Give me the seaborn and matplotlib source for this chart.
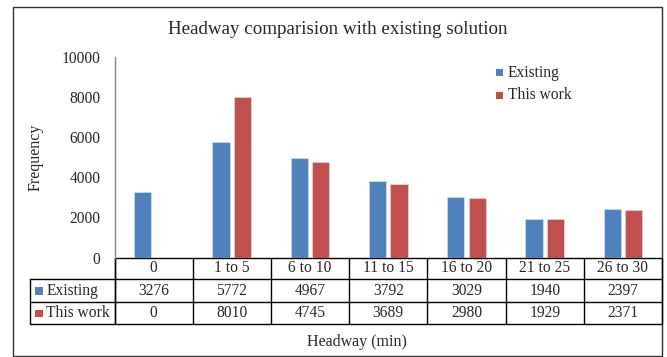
import matplotlib
matplotlib.use("Agg")
import matplotlib.pyplot as plt
import seaborn as sns
import pandas as pd
from matplotlib.transforms import blended_transform_factory
from matplotlib.patches import Rectangle
from matplotlib.lines import Line2D

# ---- data ----
categories = ["0", "1 to 5", "6 to 10", "11 to 15", "16 to 20", "21 to 25", "26 to 30"]
existing = [3276, 5772, 4967, 3792, 3029, 1940, 2397]
this_work = [0, 8010, 4745, 3689, 2980, 1929, 2371]
series_names = ["Existing", "This work"]
y_ticks = [0, 2000, 4000, 6000, 8000, 10000]
colors = ["#4F81BD", "#C0504D"]
title = "Headway comparision with existing solution"
x_label = "Headway (min)"
y_label = "Frequency"

df = pd.DataFrame({
    "Headway": categories * 2,
    "Frequency": existing + this_work,
    "Series": [series_names[0]] * len(categories) + [series_names[1]] * len(categories),
})

sns.set_style("white")
plt.rcParams["font.family"] = ["Liberation Serif", "DejaVu Serif"]

W, H = 667, 357
fig = plt.figure(figsize=(W / 100, H / 100), dpi=100)

# overlay in pixel coordinates
ov = fig.add_axes([0, 0, 1, 1])
ov.set_xlim(0, W)
ov.set_ylim(H, 0)
ov.axis("off")

x0, x1 = 114.5, 662.0
y_top, y_zero = 57.0, 257.5
ax = fig.add_axes([x0 / W, (H - y_zero) / H, (x1 - x0) / W, (y_zero - y_top) / H])
ax.patch.set_alpha(0)

sns.barplot(data=df, x="Headway", y="Frequency", hue="Series", order=categories,
            hue_order=series_names, palette=colors, saturation=1, width=0.55, gap=0.2,
            edgecolor="#dfe6ef", linewidth=0.4, legend=False, ax=ax)

ax.set_xlim(-0.5, len(categories) - 0.5)
ax.set_ylim(0, 10000)
ax.set_yticks(y_ticks)
ax.set_yticklabels([str(v) for v in y_ticks], fontsize=11.2)
ax.tick_params(axis="y", length=0, pad=10)
ax.set_xticks([])
ax.set_xlabel("")
ax.set_ylabel("")
for s in ["top", "right", "bottom"]:
    ax.spines[s].set_visible(False)
ax.spines["left"].set_color("#868686")
ax.spines["left"].set_linewidth(1.0)

# figure border
ov.add_patch(Rectangle((13, 7), 649, 348.5, fill=False, edgecolor="#303030", lw=1.0))

# title and labels
ov.text(337.5, 30, title, fontsize=13.7, ha="center", va="center")
ov.text(357, 342, x_label, fontsize=11.5, ha="center", va="center")
ov.text(36, 157, y_label, fontsize=11.5, ha="center", va="center", rotation=90)

# legend
leg_rows = [72.7, 95.0]
for name, col, yy in zip(series_names, colors, leg_rows):
    ov.add_patch(Rectangle((496, yy - 3.5), 7, 7, color=col, lw=0))
    ov.text(507.5, yy, name, fontsize=11.2, ha="left", va="center")

# data table
bt = blended_transform_factory(ax.transData, ov.transData)
r0, r1, r2, r3 = y_zero, 279.3, 302.3, 324.3
ov.add_line(Line2D([x0, x1], [r0, r0], color="black", lw=1.0))
for yy in (r1, r2, r3):
    ov.add_line(Line2D([30, x1], [yy, yy], color="black", lw=1.0))
ov.add_line(Line2D([30, 30], [r1, r3], color="black", lw=1.0))
ov.add_line(Line2D([x0, x0], [r0, r3], color="black", lw=1.0))
for i in range(len(categories) + 1):
    ln = Line2D([i - 0.5, i - 0.5], [r0, r3], color="black", lw=1.0, transform=bt)
    ov.add_line(ln)

for i, c in enumerate(categories):
    ov.text(i, (r0 + r1) / 2, c, fontsize=11.2, ha="center", va="center", transform=bt)
    ov.text(i, (r1 + r2) / 2, str(existing[i]), fontsize=11.2, ha="center", va="center", transform=bt)
    ov.text(i, (r2 + r3) / 2, str(this_work[i]), fontsize=11.2, ha="center", va="center", transform=bt)

for name, col, (ya, yb) in zip(series_names, colors, [(r1, r2), (r2, r3)]):
    yc = (ya + yb) / 2
    ov.add_patch(Rectangle((35, yc - 3.7), 7.5, 7.5, color=col, lw=0))
    ov.text(46.5, yc, name, fontsize=11.2, ha="left", va="center")

fig.savefig("out.png", dpi=100)
